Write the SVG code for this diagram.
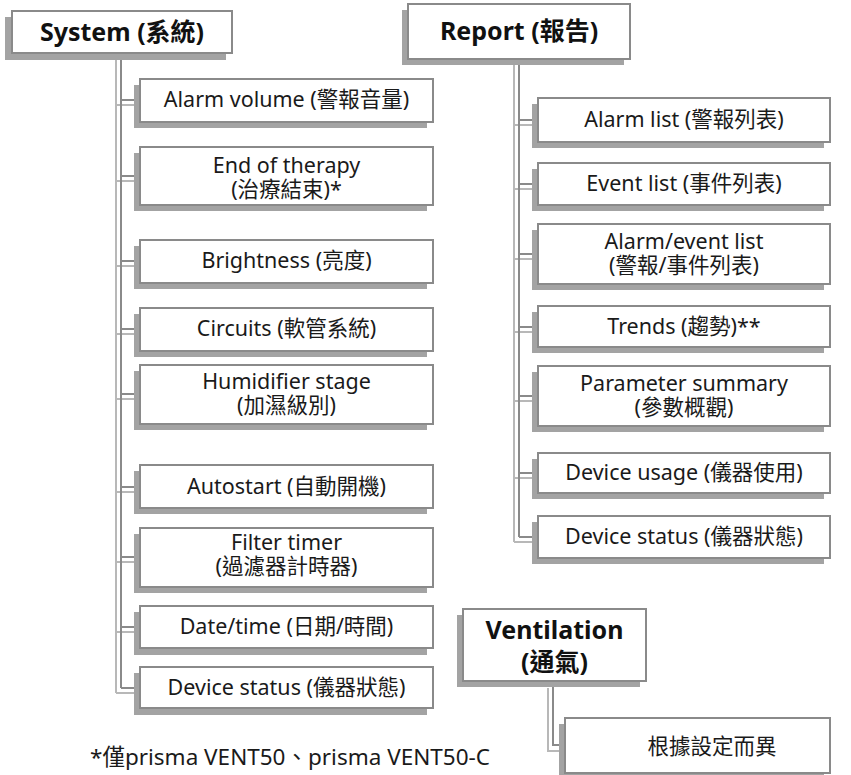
<svg xmlns="http://www.w3.org/2000/svg" width="851" height="775" viewBox="0 0 851 775">
<style>
.sh{fill:#a3a3a3}
.bx{fill:#fff;stroke:#8a8a8a;stroke-width:2}
.t{font-family:"Noto Sans","Noto Sans CJK TC",sans-serif;font-size:21.5px;fill:#1a1a1a;text-anchor:middle}
.h{font-family:"Noto Sans","Noto Sans CJK TC",sans-serif;font-size:25px;font-weight:bold;fill:#111;text-anchor:middle}
.f{font-family:"Noto Sans","Noto Sans CJK TC",sans-serif;font-size:22.5px;fill:#1a1a1a}
.cd{fill:none;stroke:#8a8a8a;stroke-width:2}
.cl{fill:none;stroke:#b8b8b8;stroke-width:2}
</style>
<rect width="851" height="775" fill="#fff"/>
<g id="connectors">
<path class="cl" d="M116 60V693M116 105H134M116 181H134M116 266H134M116 334H134M116 399H134M116 492H134M116 562H134M116 632H134M116 693H134"/>
<path class="cd" d="M121 53V688M121 100H140M121 176H140M121 261H140M121 329H140M121 394H140M121 487H140M121 557H140M121 627H140M121 688H140"/>
<path class="cl" d="M514 65V542M514 125H532M514 189H532M514 259H532M514 332H532M514 401H532M514 478H532M514 542H532"/>
<path class="cd" d="M519 59V537M519 120H538M519 184H538M519 254H538M519 327H538M519 396H538M519 473H538M519 537H538"/>
<path class="cl" d="M548 688V751H559"/>
<path class="cd" d="M553 681V745H565"/>
</g>
<g id="system"><rect class="sh" x="5" y="17" width="221" height="43"/><rect class="bx" x="12" y="11" width="220" height="42"/><text class="h" x="122" y="41">System (系統)</text></g>
<g id="alarm-volume"><rect class="sh" x="134" y="85" width="293" height="43"/><rect class="bx" x="140" y="79" width="293" height="43"/><text class="t" x="286.5" y="107">Alarm volume (警報音量)</text></g>
<g id="end-of-therapy"><rect class="sh" x="134" y="153" width="293" height="58"/><rect class="bx" x="140" y="147" width="293" height="58"/><text class="t" x="286.5" y="173">End of therapy<tspan x="286.5" dy="24">(治療結束)*</tspan></text></g>
<g id="brightness"><rect class="sh" x="134" y="246" width="293" height="43"/><rect class="bx" x="140" y="240" width="293" height="43"/><text class="t" x="286.5" y="268">Brightness (亮度)</text></g>
<g id="circuits"><rect class="sh" x="134" y="314" width="293" height="43"/><rect class="bx" x="140" y="308" width="293" height="43"/><text class="t" x="286.5" y="336">Circuits (軟管系統)</text></g>
<g id="humidifier"><rect class="sh" x="134" y="371" width="293" height="59"/><rect class="bx" x="140" y="365" width="293" height="59"/><text class="t" x="286.5" y="389">Humidifier stage<tspan x="286.5" dy="24">(加濕級別)</tspan></text></g>
<g id="autostart"><rect class="sh" x="134" y="471" width="293" height="43"/><rect class="bx" x="140" y="465" width="293" height="43"/><text class="t" x="286.5" y="494">Autostart (自動開機)</text></g>
<g id="filter-timer"><rect class="sh" x="134" y="534" width="293" height="59"/><rect class="bx" x="140" y="528" width="293" height="59"/><text class="t" x="286.5" y="550">Filter timer<tspan x="286.5" dy="24">(過濾器計時器)</tspan></text></g>
<g id="date-time"><rect class="sh" x="134" y="612" width="293" height="43"/><rect class="bx" x="140" y="606" width="293" height="42"/><text class="t" x="286.5" y="634">Date/time (日期/時間)</text></g>
<g id="device-status-sys"><rect class="sh" x="134" y="673" width="293" height="42"/><rect class="bx" x="140" y="667" width="293" height="41"/><text class="t" x="286.5" y="695">Device status (儀器狀態)</text></g>
<g id="report"><rect class="sh" x="402" y="10" width="222" height="55"/><rect class="bx" x="408" y="4" width="222" height="55"/><text class="h" x="519" y="40">Report (報告)</text></g>
<g id="alarm-list"><rect class="sh" x="532" y="104" width="292" height="44"/><rect class="bx" x="538" y="98" width="292" height="44"/><text class="t" x="684" y="127">Alarm list (警報列表)</text></g>
<g id="event-list"><rect class="sh" x="532" y="169" width="292" height="42"/><rect class="bx" x="538" y="163" width="292" height="42"/><text class="t" x="684" y="191">Event list (事件列表)</text></g>
<g id="alarm-event-list"><rect class="sh" x="532" y="230" width="292" height="60"/><rect class="bx" x="538" y="224" width="292" height="60"/><text class="t" x="684" y="249">Alarm/event list<tspan x="684" dy="24">(警報/事件列表)</tspan></text></g>
<g id="trends"><rect class="sh" x="532" y="312" width="292" height="41"/><rect class="bx" x="538" y="306" width="292" height="41"/><text class="t" x="684" y="334">Trends (趨勢)**</text></g>
<g id="parameter-summary"><rect class="sh" x="532" y="372" width="292" height="60"/><rect class="bx" x="538" y="366" width="292" height="60"/><text class="t" x="684" y="391">Parameter summary<tspan x="684" dy="24">(參數概觀)</tspan></text></g>
<g id="device-usage"><rect class="sh" x="532" y="459" width="292" height="40"/><rect class="bx" x="538" y="453" width="292" height="40"/><text class="t" x="684" y="480">Device usage (儀器使用)</text></g>
<g id="device-status-rep"><rect class="sh" x="532" y="522" width="292" height="42"/><rect class="bx" x="538" y="516" width="292" height="42"/><text class="t" x="684" y="544">Device status (儀器狀態)</text></g>
<g id="ventilation"><rect class="sh" x="457" y="615" width="183" height="72"/><rect class="bx" x="463" y="609" width="183" height="72"/><text class="h" x="554.5" y="639">Ventilation<tspan x="554.5" dy="32">(通氣)</tspan></text></g>
<g id="depends"><rect class="sh" x="559" y="724" width="265" height="56"/><rect class="bx" x="565" y="718" width="265" height="55"/><text class="t" x="712" y="754">根據設定而異</text></g>
<text class="f" x="90" y="765">*僅prisma VENT50、prisma VENT50-C</text>
</svg>
